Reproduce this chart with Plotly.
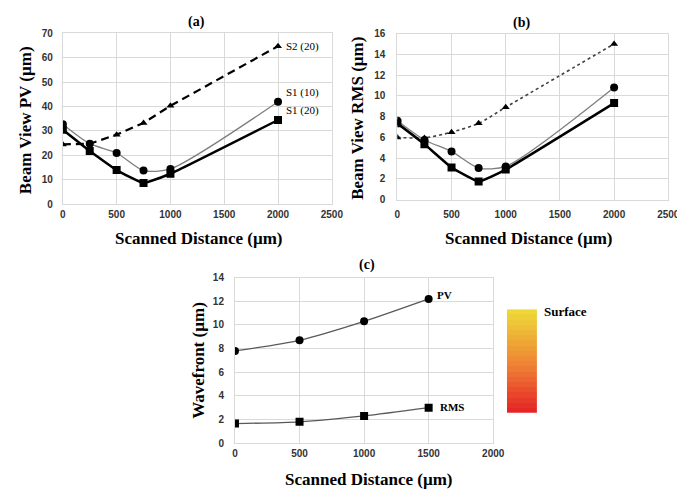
import plotly.graph_objects as go

# ---------------- data ----------------
dist_ab = [0, 250, 500, 750, 1000, 2000]
pv_s1_10 = [32.8, 24.8, 21.0, 13.8, 14.5, 42.0]
pv_s1_20 = [30.5, 21.8, 14.0, 8.7, 12.5, 34.5]
pv_s2_20 = [24.5, 24.8, 28.5, 33.3, 40.3, 64.7]

rms_s1_10 = [7.6, 5.75, 4.65, 3.05, 3.2, 10.8]
rms_s1_20 = [7.35, 5.35, 3.1, 1.75, 2.9, 9.3]
rms_s2_20 = [6.0, 5.95, 6.5, 7.35, 8.9, 15.0]

dist_c = [0, 500, 1000, 1500]
wf_pv = [7.8, 8.7, 10.3, 12.2]
wf_rms = [1.65, 1.8, 2.3, 3.0]

surface_levels = list(range(20))

W, H = 685, 490
def px(x): return x / W
def py(y): return 1 - y / H

SERIF = "Liberation Serif"
SANS = "Liberation Sans"
GRID = "#d9d9d9"

fig = go.Figure()

def add(x, y, xa, ya, color, width, symbol, msize, dash="solid", shape="linear", smooth=1.0):
    fig.add_trace(go.Scatter(
        x=x, y=y, xaxis=xa, yaxis=ya, mode="lines+markers",
        line=dict(color=color, width=width, dash=dash, shape=shape, smoothing=smooth),
        marker=dict(symbol=symbol, size=msize, color="black"),
        showlegend=False, hoverinfo="skip"))

# panel (a)
add(dist_ab, pv_s2_20, "x", "y", "black", 2.2, "triangle-up", 7, dash="8px,5px")
add(dist_ab, pv_s1_10, "x", "y", "#7f7f7f", 1.3, "circle", 8, shape="spline", smooth=0.7)
add(dist_ab, pv_s1_20, "x", "y", "black", 2.5, "square", 8, shape="spline", smooth=0.3)
# panel (b)
add(dist_ab, rms_s2_20, "x2", "y2", "#404040", 1.6, "triangle-up", 7, dash="3px,3px", shape="spline", smooth=0.7)
add(dist_ab, rms_s1_10, "x2", "y2", "#7f7f7f", 1.3, "circle", 8, shape="spline", smooth=0.7)
add(dist_ab, rms_s1_20, "x2", "y2", "black", 2.5, "square", 8, shape="spline", smooth=0.3)
# panel (c)
add(dist_c, wf_pv, "x3", "y3", "#595959", 1.3, "circle", 8, shape="spline", smooth=0.7)
add(dist_c, wf_rms, "x3", "y3", "#595959", 1.3, "square", 8, shape="spline", smooth=0.7)

# surface colour bar
fig.add_trace(go.Heatmap(
    z=[[v] for v in surface_levels], xaxis="x4", yaxis="y4", showscale=False,
    colorscale=[[0, "#e31b1b"], [0.45, "#ef7a2a"], [1, "#ecd62e"]],
    hoverinfo="skip", opacity=0.95))

tick_font = dict(family=SANS, size=10, color="#333333", weight="bold")

def axis(domain, rng, dtick, anchor, standoff):
    return dict(domain=domain, range=rng, dtick=dtick, anchor=anchor,
                showgrid=True, gridcolor=GRID, gridwidth=1, zeroline=False,
                showline=True, linecolor=GRID, linewidth=1, mirror=True,
                ticks="", tickfont=tick_font, fixedrange=True,
                ticklabelstandoff=standoff)

fig.update_layout(
    width=W, height=H, margin=dict(l=0, r=0, t=0, b=0),
    paper_bgcolor="white", plot_bgcolor="white",
    xaxis=axis([px(53), px(328)], [0, 2500], 500, "y", 1),
    yaxis=axis([py(195.7), py(20.7)], [0, 70], 10, "x", 7),
    xaxis2=axis([px(395), px(672)], [0, 2500], 500, "y2", 5),
    yaxis2=axis([py(191), py(21)], [0, 16], 2, "x2", 9),
    xaxis3=axis([px(229), px(493)], [0, 2000], 500, "y3", 1),
    yaxis3=axis([py(440), py(270.7)], [0, 14], 2, "x3", 8),
    xaxis4=dict(domain=[px(507), px(538)], anchor="y4", visible=False, fixedrange=True),
    yaxis4=dict(domain=[py(409), py(303)], anchor="x4", visible=False, fixedrange=True),
)

def note(text, x, y, size=17, bold=True, angle=0, xanchor="center", family=SERIF):
    fig.add_annotation(text=f"<b>{text}</b>" if bold else text, x=px(x), y=py(y),
                       xref="paper", yref="paper", showarrow=False, textangle=angle,
                       xanchor=xanchor, yanchor="middle",
                       font=dict(family=family, size=size, color="black"))

# titles
note("(a)", 190, 9, size=14)
note("(b)", 522, 10, size=14)
note("(c)", 364, 258, size=14)
# axis titles
note("Scanned Distance (µm)", 192, 231)
note("Scanned Distance (µm)", 530, 231)
note("Scanned Distance (µm)", 366, 477)
note("Beam View PV (µm)", 15, 110, angle=-90)
note("Beam View RMS (µm)", 354, 108, angle=-90)
note("Wavefront (µm)", 191, 355, angle=-90)
# series labels
note("S2 (20)", 279, 34, size=11, bold=False, xanchor="left")
note("S1 (10)", 279, 81, size=11, bold=False, xanchor="left")
note("S1 (20)", 279, 100, size=11, bold=False, xanchor="left")
note("PV", 434, 288, size=11, xanchor="left")
note("RMS", 437, 403, size=11, xanchor="left")
note("Surface", 543, 305, size=13, xanchor="left")

fig.write_html("out.html")
